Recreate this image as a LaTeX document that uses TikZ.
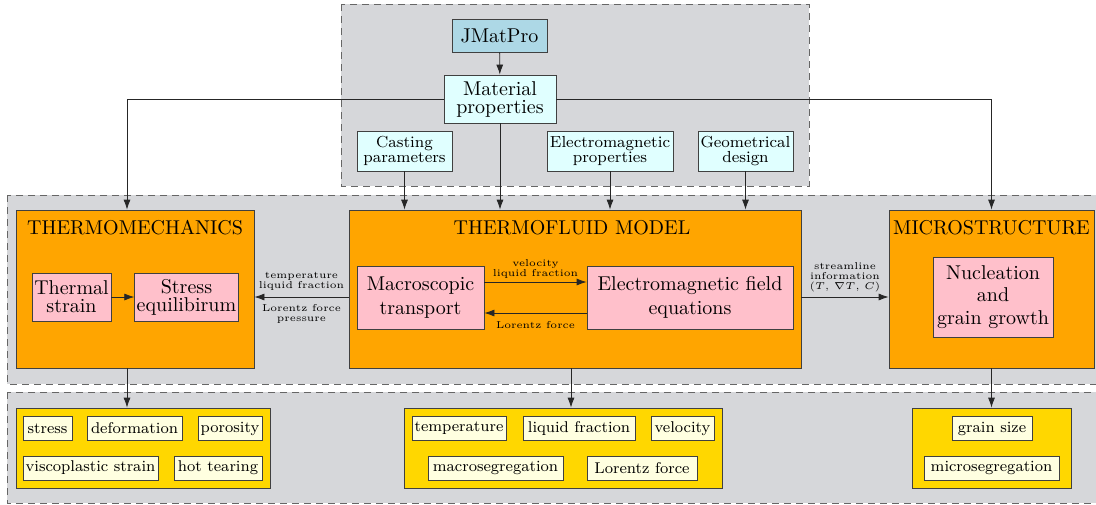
\documentclass[tikz,border=0pt]{standalone}
\usepackage{tikz}
\usetikzlibrary{arrows.meta}
\definecolor{regiongray}{RGB}{214,215,218}
\definecolor{modelorange}{RGB}{255,165,0}
\definecolor{outgold}{RGB}{255,215,0}
\definecolor{itemyellow}{RGB}{255,255,224}
\definecolor{subpink}{RGB}{255,192,203}
\definecolor{inputcyan}{RGB}{224,255,255}
\definecolor{jmatblue}{RGB}{173,216,230}

\tikzset{
  region/.style={fill=regiongray,draw=black!60,dash pattern=on 3.5pt off 2.5pt},
  box/.style={draw=black!75,align=center,inner sep=1pt},
  inbox/.style={box,fill=inputcyan,font=\fontsize{8}{7.8}\selectfont,minimum height=20pt},
  model/.style={box,fill=modelorange,minimum height=79pt},
  sub/.style={box,fill=subpink},
  outbox/.style={box,fill=outgold,minimum height=40pt},
  item/.style={box,fill=itemyellow,font=\fontsize{7.8}{9}\selectfont,minimum height=12pt,inner sep=1.2pt},
  flowlabel/.style={font=\fontsize{5}{4.9}\selectfont,align=center,inner sep=1.5pt},
  arr/.style={->,draw=black!85}
}

\begin{document}
\begin{tikzpicture}[x=0.5pt,y=-0.5pt,>={Latex[length=5pt,width=3.5pt]}]
  \clip (0,0) rectangle (1096,504);
  % dashed background regions
  \filldraw[region] (341,4) rectangle (809,186);
  \filldraw[region] (7,195) rectangle (1110,384);
  \filldraw[region] (7,392) rectangle (1110,503);

  % inputs
  \node[box,fill=jmatblue,minimum width=47.5pt,minimum height=16.5pt] (jmat) at (499.5,35.5) {JMatPro};
  \node[box,fill=inputcyan,minimum width=56pt,minimum height=24pt,font=\fontsize{10}{9}\selectfont] (mat) at (500,99) {Material\\properties};
  \node[inbox,minimum width=47.5pt] (cast) at (404.5,151) {Casting\\parameters};
  \node[inbox,minimum width=63pt] (emprop) at (610,151) {Electromagnetic\\properties};
  \node[inbox,minimum width=47.5pt] (geom) at (745.5,151) {Geometrical\\design};

  % models
  \node[model,minimum width=119pt] (tm) at (135,289) {};
  \node (tmtitle) at (135,228) {THERMOMECHANICS};
  \node[model,minimum width=226pt] (tf) at (575,289) {};
  \node (tftitle) at (572,228) {THERMOFLUID MODEL};
  \node[model,minimum width=102.5pt] (micro) at (991.5,289) {};
  \node (microtitle) at (991.5,228) {MICROSTRUCTURE};

  % sub-models
  \node[sub,minimum width=39.5pt,minimum height=24pt,font=\fontsize{10}{9}\selectfont] (thstrain) at (71.5,297) {Thermal\\strain};
  \node[sub,minimum width=51.5pt,minimum height=24pt,font=\fontsize{10}{9}\selectfont] (stress) at (186.5,297) {Stress\\equilibirum};
  \node[sub,minimum width=63.5pt,minimum height=31.5pt,font=\fontsize{10}{11.7}\selectfont] (macro) at (420.5,297.5) {Macroscopic\\transport};
  \node[sub,minimum width=103pt,minimum height=31.5pt,font=\fontsize{10}{11.7}\selectfont] (emfield) at (690,297.5) {Electromagnetic field\\equations};
  \node[sub,minimum width=60pt,minimum height=40pt,font=\fontsize{10}{11.3}\selectfont] (nucl) at (993,297) {Nucleation\\and\\grain growth};

  % outputs
  \node[outbox,minimum width=127pt] (tmout) at (143,448) {};
  \node[item,minimum width=24.5pt] (o1) at (47.5,428.5) {stress};
  \node[item,minimum width=47.5pt] (o2) at (134.5,428.5) {deformation};
  \node[item,minimum width=32pt] (o3) at (230,428.5) {porosity};
  \node[item,minimum width=67.5pt] (o4) at (90.5,468) {viscoplastic strain};
  \node[item,minimum width=44pt] (o5) at (218,468) {hot tearing};

  \node[outbox,minimum width=159pt] (tfout) at (563,448) {};
  \node[item,minimum width=47pt] (o6) at (459,428.5) {temperature};
  \node[item,minimum width=56pt] (o7) at (579,428.5) {liquid fraction};
  \node[item,minimum width=31.5pt] (o8) at (682.5,428.5) {velocity};
  \node[item,minimum width=67.5pt] (o9) at (495.5,468) {macrosegregation};
  \node[item,minimum width=55pt] (o10) at (642,468) {Lorentz force};

  \node[outbox,minimum width=79.5pt] (microout) at (991.5,448) {};
  \node[item,minimum width=40pt] (o11) at (992,428.5) {grain size};
  \node[item,minimum width=67.5pt] (o12) at (991.5,468) {microsegregation};

  % connections from the inputs
  \draw[arr] (jmat) -- (mat);
  \draw[arr] (mat.west) -| ([xshift=-4pt]tm.north);
  \draw[arr] (mat.east) -| (micro.north);
  \draw[arr] (mat.south) -- (mat.south |- tf.north);
  \draw[arr] (cast.south) -- (cast.south |- tf.north);
  \draw[arr] (emprop.south) -- (emprop.south |- tf.north);
  \draw[arr] (geom.south) -- (geom.south |- tf.north);

  % coupling between models
  \draw[arr] (thstrain) -- (stress);
  \draw[arr] ([yshift=7.75pt]macro.east) -- ([yshift=7.75pt]emfield.west)
    node[flowlabel,midway,above] (lab1) {velocity\\liquid fraction};
  \draw[arr] ([yshift=-7.75pt]emfield.west) -- ([yshift=-7.75pt]macro.east)
    node[flowlabel,midway,below=2.5pt] (lab2) {Lorentz force};
  \draw[arr] ([yshift=-4pt]tf.west) -- ([yshift=-4pt]tm.east)
    node[flowlabel,midway,above=1.5pt] (lab3) {temperature\\liquid fraction}
    node[flowlabel,midway,below=2pt] (lab4) {Lorentz force\\pressure};
  \draw[arr] ([yshift=-4pt]tf.east) -- ([yshift=-4pt]micro.west)
    node[flowlabel,midway,above=1pt] (lab5) {streamline\\information\\($T$, $\nabla T$, $C$)};

  % results
  \draw[arr] ([xshift=-4pt]tm.south) -- ([xshift=-4pt]tm.south |- tmout.north);
  \draw[arr] ([xshift=-2pt]tf.south) -- ([xshift=-2pt]tf.south |- tfout.north);
  \draw[arr] (micro.south) -- (micro.south |- microout.north);
\end{tikzpicture}
\end{document}
